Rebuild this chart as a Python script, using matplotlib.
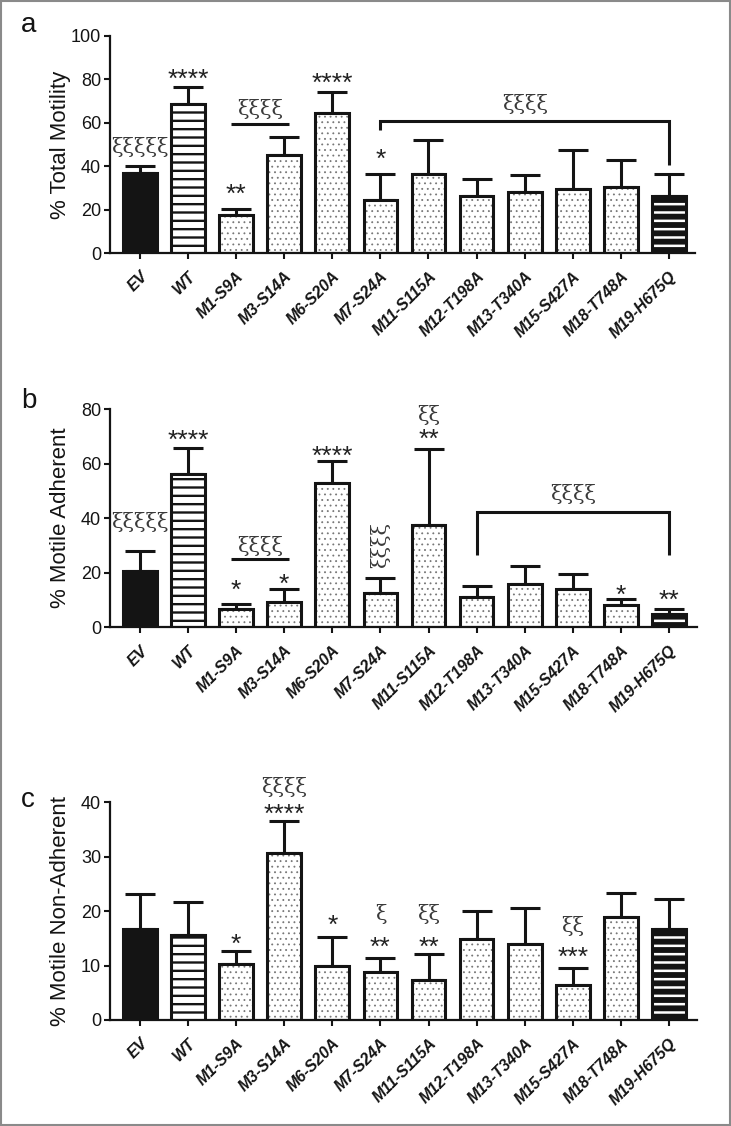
import matplotlib
matplotlib.use("Agg")
import matplotlib.pyplot as plt
import matplotlib.patches as mpatches
import matplotlib.transforms as mtransforms
import numpy as np

# ---------------- data ----------------
categories = ['EV', 'WT', 'M1-S9A', 'M3-S14A', 'M6-S20A', 'M7-S24A', 'M11-S115A',
              'M12-T198A', 'M13-T340A', 'M15-S427A', 'M18-T748A', 'M19-H675Q']

total_motility = [36.8, 68.8, 17.3, 45.2, 64.5, 24.2, 36.6, 26.3, 28.3, 29.4, 30.6, 26.2]
total_motility_err_top = [40.1, 76.6, 20.2, 53.6, 74.0, 36.6, 52.0, 34.1, 36.0, 47.6, 42.7, 36.3]

motile_adherent = [20.6, 56.3, 6.7, 9.2, 52.7, 12.5, 37.5, 11.1, 15.8, 13.9, 8.2, 4.8]
motile_adherent_err_top = [28.0, 65.6, 8.7, 13.9, 61.0, 17.9, 65.4, 15.1, 22.6, 19.4, 10.5, 6.6]

motile_nonadherent = [16.8, 15.6, 10.2, 30.6, 10.0, 8.8, 7.3, 14.9, 14.0, 6.4, 19.0, 16.7]
motile_nonadherent_err_top = [23.2, 21.6, 12.6, 36.6, 15.2, 11.3, 12.2, 20.0, 20.5, 9.5, 23.4, 22.2]

ylabels = ['% Total Motility', '% Motile Adherent', '% Motile Non-Adherent']
yticks = [[0, 20, 40, 60, 80, 100], [0, 20, 40, 60, 80], [0, 10, 20, 30, 40]]
panel_letters = ['a', 'b', 'c']

# bar styles: 'solid' (EV), 'stripe' (WT), 'dots' (mutants), 'darkstripe' (M19)
styles = ['solid', 'stripe'] + ['dots'] * 9 + ['darkstripe']

# ---------------- figure ----------------
W, H = 731, 1126
fig = plt.figure(figsize=(W / 100, H / 100), dpi=100)
fig.patch.set_facecolor('white')

axes_px = [  # left, top(px), right, bottom(px)
    (110, 36, 695, 253),
    (110, 409, 697, 627.3),
    (110, 802.3, 697, 1020),
]

ASTER = dict(family='Liberation Sans', fontsize=19, color='#222')
XI = dict(family='DejaVu Serif', fontsize=15, color='#3a3a3a')


def make_ax(i):
    l, t, r, b = axes_px[i]
    ax = fig.add_axes([l / W, 1 - b / H, (r - l) / W, (b - t) / H])
    return ax


def draw_bars(ax, vals, tops, yt, xmax):
    x = np.arange(len(vals))
    width = 0.7
    for xi_, v, s in zip(x, vals, styles):
        if s == 'solid':
            ax.bar(xi_, v, width, color='#141414', edgecolor='none', linewidth=0, zorder=2)
        elif s == 'stripe':
            with plt.rc_context({'hatch.linewidth': 1.7}):
                ax.bar(xi_, v, width, color='white', edgecolor='#141414', hatch='--',
                       linewidth=0, zorder=2)
        elif s == 'darkstripe':
            with plt.rc_context({'hatch.linewidth': 1.8}):
                ax.bar(xi_, v, width, color='#141414', edgecolor='white', hatch='--',
                       linewidth=0, zorder=2)
        else:
            with plt.rc_context({'hatch.linewidth': 0.6}):
                ax.bar(xi_, v, width, color='white', edgecolor='#777777', hatch='...',
                       linewidth=0, zorder=2)
    ax.bar(x, vals, width, fill=False, edgecolor='#141414', linewidth=2.2, zorder=3)
    upper = np.array(tops) - np.array(vals)
    ax.errorbar(x, vals, yerr=[np.zeros(len(vals)), upper], fmt='none', ecolor='#141414',
                elinewidth=2.2, capsize=11, capthick=2.2, zorder=1)

    ax.set_xlim(-0.62, xmax)
    ax.set_ylim(0, yt[-1])
    ax.set_yticks(yt)
    ax.set_yticklabels([str(v) for v in yt], family='Liberation Sans', fontsize=13)
    ax.set_xticks(x)
    labs = ax.set_xticklabels(categories, rotation=45, ha='right', va='top',
                              rotation_mode='anchor', family='Liberation Sans',
                              fontweight='bold', fontstyle='italic', fontsize=11.5)
    shift = mtransforms.ScaledTranslation(3 / 100, 0, fig.dpi_scale_trans)
    for t in labs:
        t.set_transform(t.get_transform() + shift)
    for sp in ['top', 'right']:
        ax.spines[sp].set_visible(False)
    for sp in ['left', 'bottom']:
        ax.spines[sp].set_linewidth(1.6)
        ax.spines[sp].set_color('#141414')
    ax.tick_params(axis='y', length=4.5, width=1.5, pad=2, colors='#141414')
    ax.tick_params(axis='x', length=4, width=1.5, pad=7.5, colors='#141414')
    ax.set_facecolor('none')


def aster(ax, x, y, s):
    ax.text(x, y, s, ha='center', va='baseline', clip_on=False, zorder=5, **ASTER)


def xi(ax, x, y, s, rot=0):
    ax.text(x, y, s, ha='center', va='baseline' if rot == 0 else 'center',
            rotation=rot, clip_on=False, zorder=5, **XI)


def hline(ax, x0, x1, y):
    ax.plot([x0, x1], [y, y], color='#141414', lw=2.2, clip_on=False, zorder=5,
            solid_capstyle='butt')


def bracket(ax, x0, x1, y, y0, y1):
    ax.plot([x0, x0, x1, x1], [y0, y, y, y1], color='#141414', lw=2.2, clip_on=False,
            zorder=5, solid_joinstyle='miter', solid_capstyle='butt')


axs = [make_ax(i) for i in range(3)]

draw_bars(axs[0], total_motility, total_motility_err_top, yticks[0], 11.54)
draw_bars(axs[1], motile_adherent, motile_adherent_err_top, yticks[1], 11.58)
draw_bars(axs[2], motile_nonadherent, motile_nonadherent_err_top, yticks[2], 11.58)

for ax, lab in zip(axs, ylabels):
    ax.set_ylabel(lab, family='Liberation Sans', fontsize=16, color='#141414')
    ax.yaxis.set_label_coords(-0.066, 0.5)

# panel letters
for lab, ypx in zip(panel_letters, [32, 408, 807]):
    fig.text(21 / W, 1 - ypx / H, lab, family='Liberation Sans', fontsize=20,
             ha='left', va='baseline', color='#141414')

# ---------------- annotations ----------------
a = axs[0]
xi(a, 0, 46, 'ξξξξξ')
aster(a, 1, 76.6, '****')
aster(a, 2, 23.5, '**')
hline(a, 1.9, 3.1, 59.4)
xi(a, 2.5, 63.6, 'ξξξξ')
aster(a, 4, 74.8, '****')
aster(a, 5, 39.6, '*')
bracket(a, 5, 11, 61, 56.7, 40.5)
xi(a, 8, 65.9, 'ξξξξ')

b = axs[1]
xi(b, 0, 36.4, 'ξξξξξ')
aster(b, 1, 65.7, '****')
aster(b, 2, 10.7, '*')
aster(b, 3, 12.9, '*')
hline(b, 1.9, 3.1, 25)
xi(b, 2.5, 27.6, 'ξξξξ')
aster(b, 4, 59.8, '****')
xi(b, 5, 30.3, 'ξξξξ', rot=90)
aster(b, 6, 66, '**')
xi(b, 6, 75.6, 'ξξ')
bracket(b, 7, 11, 42.4, 26.5, 26.5)
xi(b, 9, 46.6, 'ξξξξ')
aster(b, 10, 8.9, '*')
aster(b, 11, 7.1, '**')

c = axs[2]
aster(c, 2, 12.5, '*')
aster(c, 3, 36.4, '****')
xi(c, 3, 41.7, 'ξξξξ')
aster(c, 4, 16, '*')
aster(c, 5, 11.9, '**')
xi(c, 5, 18.4, 'ξ')
aster(c, 6, 11.9, '**')
xi(c, 6, 18.4, 'ξξ')
aster(c, 9, 10.1, '***')
xi(c, 9, 16.2, 'ξξ')

# figure frame
fig.add_artist(mpatches.Rectangle((0.001, 0.001), 0.998, 0.998, transform=fig.transFigure,
                                  fill=False, edgecolor='#8a8a8a', linewidth=1.5))

fig.savefig('out.png', dpi=100, facecolor='white')
